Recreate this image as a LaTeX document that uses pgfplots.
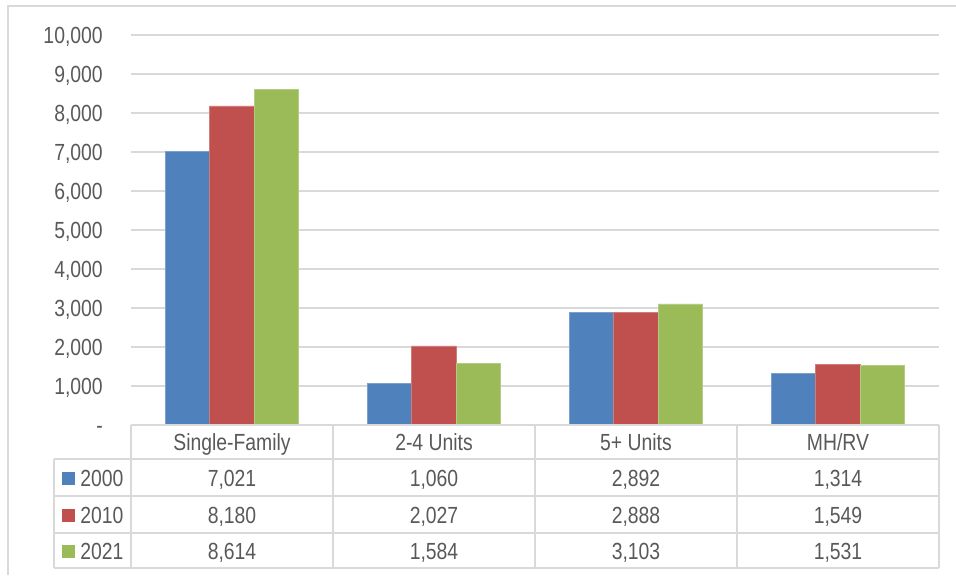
\documentclass[border=0pt]{standalone}
\usepackage{fontspec}
\setmainfont[FakeStretch=0.83]{Liberation Sans}
\usepackage{pgfplots}
\pgfplotsset{compat=1.18}

\definecolor{c2000}{HTML}{4F81BD}
\definecolor{c2010}{HTML}{C0504D}
\definecolor{c2021}{HTML}{9BBB59}
\definecolor{gridc}{HTML}{D9D9D9}
\definecolor{txt}{HTML}{595959}
\newcommand\tfont{\fontsize{17.5}{20}\selectfont}

\begin{document}
\begin{tikzpicture}
% frame, sized in pixels of the reference (1px = 0.75pt)
\begin{scope}[x=0.75pt,y=-0.75pt]
  \useasboundingbox (0,0) rectangle (956,575);
  \draw[gridc, line width=1.2pt] (8,575) -- (8,6) -- (956,6);
\end{scope}

\begin{axis}[
    at={(98.25pt,-318.75pt)}, anchor=south west,
    scale only axis, width=606pt, height=292.5pt,
    xmin=-0.5, xmax=3.5, ymin=0, ymax=10000,
    xtick=\empty,
    ytick={0,1000,...,10000},
    scaled y ticks=false,
    yticklabels={{-\hspace{7.5pt}},{1,000},{2,000},{3,000},{4,000},{5,000},{6,000},{7,000},{8,000},{9,000},{10,000}},
    yticklabel style={font=\tfont, text=txt, anchor=east, inner sep=0pt, xshift=-21pt,
      text height=12.5pt, text depth=0pt},
    axis line style={draw=none},
    major tick style={draw=none},
    ymajorgrids, grid style={gridc, line width=1.1pt},
    ybar, bar width=33.4pt,
  ]
  \addplot[fill=c2000, draw=c2000!75!white, line width=0.5pt, bar shift=-33.4pt]
    coordinates {(0,7021) (1,1060) (2,2892) (3,1314)};
  \addplot[fill=c2010, draw=c2010!75!white, line width=0.5pt, bar shift=0pt]
    coordinates {(0,8180) (1,2027) (2,2888) (3,1549)};
  \addplot[fill=c2021, draw=c2021!75!white, line width=0.5pt, bar shift=33.4pt]
    coordinates {(0,8614) (1,1584) (2,3103) (3,1531)};
\end{axis}

% data table under the plot
\begin{scope}[x=0.75pt,y=-0.75pt]
  \begin{scope}[gridc, line width=1.1pt]
    \draw (131,425) -- (939,425);
    \foreach \yy in {459,496,533,568} \draw (54,\yy) -- (939,\yy);
    \draw (54,459) -- (54,568);
    \foreach \xx in {131,333,535,737,939} \draw (\xx,425) -- (\xx,568);
  \end{scope}
  \begin{scope}[every node/.style={font=\tfont, text=txt, inner sep=0pt,
      text height=12.5pt, text depth=0pt}]
    \node at (232,442) {Single-Family};
    \node at (434,442) {2-4 Units};
    \node at (636,442) {5+ Units};
    \node at (838,442) {MH/RV};
    \fill[c2000] (62,472) rectangle (75,485);
    \fill[c2010] (62,509) rectangle (75,522);
    \fill[c2021] (62,545) rectangle (75,558);
    \node[anchor=west] at (80,478) {2000};
    \node[anchor=west] at (80,515) {2010};
    \node[anchor=west] at (80,551) {2021};
    \node at (232,478) {7,021}; \node at (434,478) {1,060}; \node at (636,478) {2,892}; \node at (838,478) {1,314};
    \node at (232,515) {8,180}; \node at (434,515) {2,027}; \node at (636,515) {2,888}; \node at (838,515) {1,549};
    \node at (232,551) {8,614}; \node at (434,551) {1,584}; \node at (636,551) {3,103}; \node at (838,551) {1,531};
  \end{scope}
\end{scope}
\end{tikzpicture}
\end{document}
